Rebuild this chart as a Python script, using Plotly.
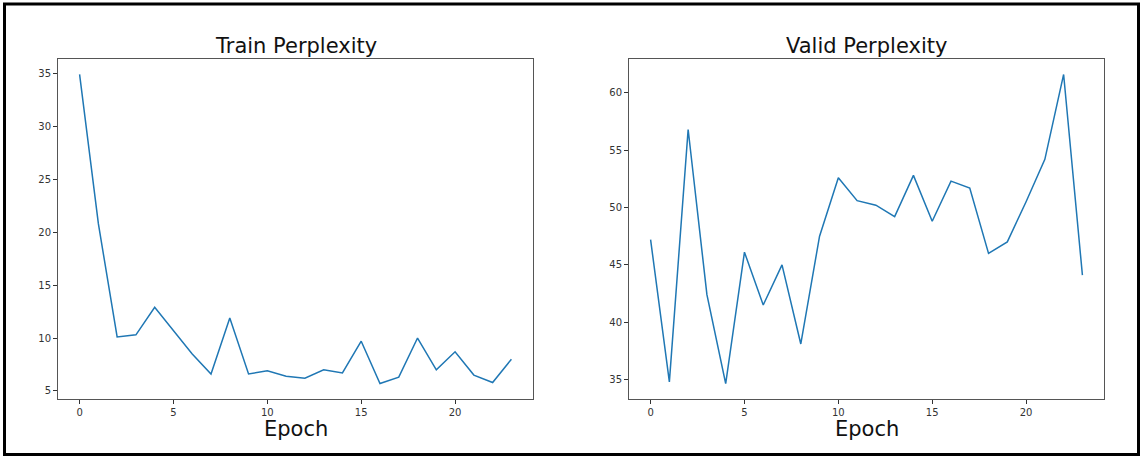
import plotly.graph_objects as go

W, H = 1141, 457

epochs = list(range(24))
train_ppl = [34.9, 20.8, 10.1, 10.3, 12.9, 10.7, 8.5, 6.6, 11.9, 6.6, 6.9, 6.4,
             6.2, 7.0, 6.7, 9.7, 5.7, 6.3, 10.0, 7.0, 8.7, 6.5, 5.8, 8.0]
valid_ppl = [47.2, 34.8, 56.8, 42.4, 34.65, 46.1, 41.5, 45.0, 38.1, 47.5, 52.6, 50.6,
             50.2, 49.2, 52.8, 48.8, 52.3, 51.7, 46.0, 47.0, 50.5, 54.2, 61.6, 44.1]
titles = ["Train Perplexity", "Valid Perplexity"]
xlabel = "Epoch"
x_ticks = [0, 5, 10, 15, 20]
train_ticks = [5, 10, 15, 20, 25, 30, 35]
valid_ticks = [35, 40, 45, 50, 55, 60]

LINE = "#1f77b4"
FONT = "DejaVu Sans"

def px(x):
    return x / W

def py(y):
    return 1 - y / H

def padded(vals):
    lo, hi = min(vals), max(vals)
    m = (hi - lo) * 0.05
    return [lo - m, hi + m]

fig = go.Figure()
fig.add_trace(go.Scatter(x=epochs, y=train_ppl, mode="lines",
                         line=dict(color=LINE, width=1.5), xaxis="x", yaxis="y",
                         showlegend=False))
fig.add_trace(go.Scatter(x=epochs, y=valid_ppl, mode="lines",
                         line=dict(color=LINE, width=1.5), xaxis="x2", yaxis="y2",
                         showlegend=False))

axis_common = dict(showgrid=False, zeroline=False, showline=True, mirror=True,
                   linecolor="#555555", linewidth=1, ticks="outside", ticklen=4,
                   tickwidth=1, tickcolor="#333333", automargin=False,
                   tickfont=dict(family=FONT, size=10, color="#333333"))

xr = padded(epochs)
ydom = [py(399), py(59)]
fig.update_layout(
    width=W, height=H,
    margin=dict(l=0, r=0, t=0, b=0),
    paper_bgcolor="white", plot_bgcolor="white",
    xaxis=dict(domain=[px(58), px(533)], range=xr, tickvals=x_ticks, anchor="y", **axis_common),
    yaxis=dict(domain=ydom, range=padded(train_ppl), tickvals=train_ticks, anchor="x", **axis_common),
    xaxis2=dict(domain=[px(629), px(1104)], range=xr, tickvals=x_ticks, anchor="y2", **axis_common),
    yaxis2=dict(domain=ydom, range=padded(valid_ppl), tickvals=valid_ticks, anchor="x2", **axis_common),
)

centers = [(58 + 533) / 2, (629 + 1104) / 2]
for cx, t in zip(centers, titles):
    fig.add_annotation(text=t, x=px(cx), y=py(46), xref="paper", yref="paper",
                       showarrow=False, xanchor="center", yanchor="middle",
                       font=dict(family=FONT, size=21, color="#111111"))
    fig.add_annotation(text=xlabel, x=px(cx), y=py(429), xref="paper", yref="paper",
                       showarrow=False, xanchor="center", yanchor="middle",
                       font=dict(family=FONT, size=21, color="#111111"))

fig.add_shape(type="rect", xref="paper", yref="paper",
              x0=px(4.5), x1=px(1138.5), y0=py(454.5), y1=py(4),
              line=dict(color="black", width=3), fillcolor="rgba(0,0,0,0)")

fig.write_html("out.html", config={"displayModeBar": False},
               post_script="document.body.style.margin='0';document.body.style.overflow='hidden';")
